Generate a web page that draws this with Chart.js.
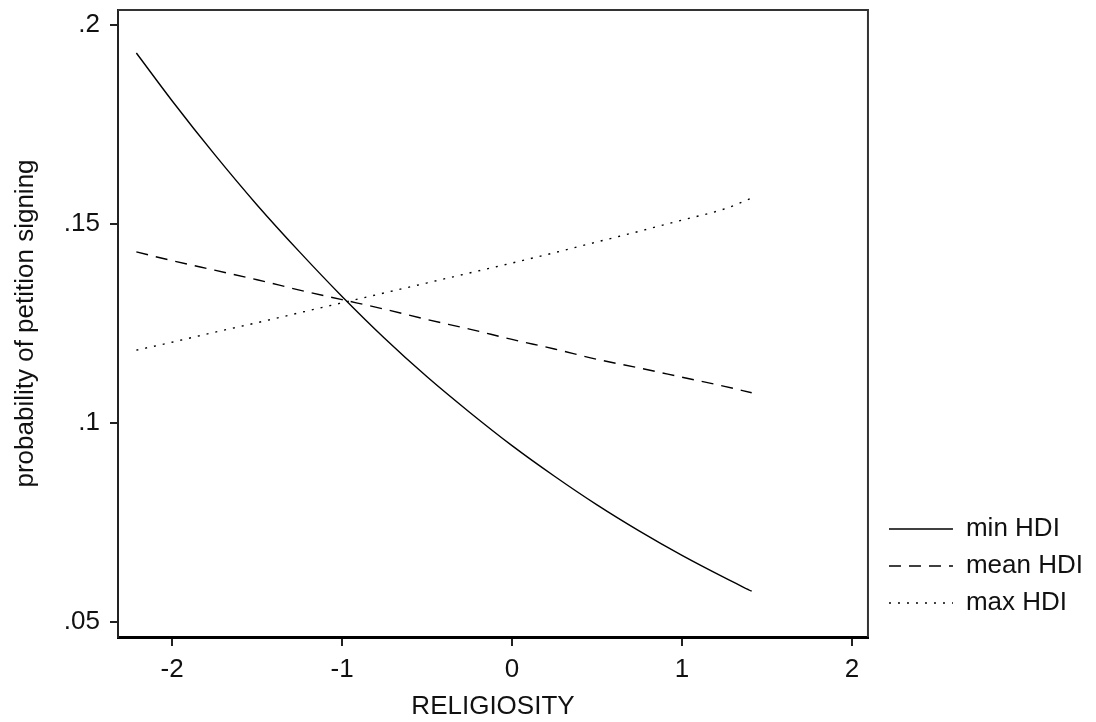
<!DOCTYPE html>
<html lang="en">
<head>
    <meta charset="UTF-8">
    <title>Probability of petition signing by religiosity</title>
    <script src="https://cdn.jsdelivr.net/npm/chart.js"></script>
    <style>
        body { margin: 0; background: #fff; }
        #wrap { width: 1096px; height: 722px; }
    </style>
</head>
<body>
    <div id="wrap">
        <canvas id="hdi-chart" width="1096" height="722"></canvas>
    </div>

    <script>
        // religiosity values where the predictions were read
        const religiosity = [-2.21, -2.0, -1.75, -1.5, -1.25, -1.0, -0.75, -0.5, -0.25, 0, 0.25, 0.5, 0.75, 1.0, 1.25, 1.41];

        // predicted probabilities, one list per HDI level
        const minHDI  = [0.193, 0.181, 0.1675, 0.1548, 0.143, 0.1318, 0.1213, 0.1116, 0.1027, 0.0943, 0.0866, 0.0794, 0.0728, 0.0667, 0.0611, 0.0577];
        const meanHDI = [0.143, 0.1408, 0.1384, 0.136, 0.1334, 0.131, 0.1286, 0.126, 0.1236, 0.121, 0.1186, 0.116, 0.1138, 0.1115, 0.1092, 0.1076];
        const maxHDI  = [0.1183, 0.1203, 0.1228, 0.1252, 0.1277, 0.1302, 0.1327, 0.1352, 0.1377, 0.1402, 0.1428, 0.1455, 0.1482, 0.151, 0.1538, 0.1565];

        const seriesNames = ['min HDI', 'mean HDI', 'max HDI'];

        // axis ticks
        const xTickValues = [-2, -1, 0, 1, 2];
        const yTickValues = [0.05, 0.1, 0.15, 0.2];
        const yTickLabels = ['.05', '.1', '.15', '.2'];

        const FONT = 'Liberation Sans, Arial, sans-serif';

        function toPoints(ys) {
            return religiosity.map((x, i) => ({ x: x, y: ys[i] }));
        }

        // top and right sides of the plot frame, plus moving the legend
        // down next to the bottom right corner of the plot
        const frame = {
            id: 'frame',
            afterLayout(chart) {
                const lg = chart.legend;
                if (!lg) return;
                const h = lg.bottom - lg.top;
                lg.left += 10;
                lg.right += 10;
                lg.bottom = chart.chartArea.bottom - 10;
                lg.top = lg.bottom - h;
            },
            afterDraw(chart) {
                const a = chart.chartArea;
                const ctx = chart.ctx;
                ctx.save();
                ctx.strokeStyle = '#333';
                ctx.lineWidth = 2;
                ctx.beginPath();
                ctx.moveTo(a.left, a.top);
                ctx.lineTo(a.right, a.top);
                ctx.lineTo(a.right, a.bottom);
                ctx.stroke();
                ctx.restore();
            }
        };

        const ctx = document.getElementById('hdi-chart').getContext('2d');
        new Chart(ctx, {
            type: 'line',
            data: {
                datasets: [
                    {
                        label: seriesNames[0],
                        data: toPoints(minHDI),
                        borderColor: '#000',
                        borderWidth: 1.4,
                        pointRadius: 0,
                        pointStyle: 'line',
                        cubicInterpolationMode: 'monotone'
                    },
                    {
                        label: seriesNames[1],
                        data: toPoints(meanHDI),
                        borderColor: '#000',
                        borderWidth: 1.4,
                        borderDash: [12, 8],
                        pointRadius: 0,
                        pointStyle: 'line',
                        cubicInterpolationMode: 'monotone'
                    },
                    {
                        label: seriesNames[2],
                        data: toPoints(maxHDI),
                        borderColor: '#000',
                        borderWidth: 1.4,
                        borderDash: [2, 7],
                        pointRadius: 0,
                        pointStyle: 'line',
                        cubicInterpolationMode: 'monotone'
                    }
                ]
            },
            options: {
                responsive: false,
                animation: false,
                layout: { padding: { top: 10, right: 13, bottom: 0, left: 0 } },
                plugins: {
                    tooltip: { enabled: false },
                    legend: {
                        position: 'right',
                        align: 'end',
                        labels: {
                            usePointStyle: true,
                            pointStyleWidth: 64,
                            padding: 11,
                            color: '#111',
                            font: { family: FONT, size: 26 },
                            generateLabels(chart) {
                                const items = Chart.defaults.plugins.legend.labels.generateLabels(chart);
                                items.forEach(it => {
                                    const ds = chart.data.datasets[it.datasetIndex];
                                    it.lineDash = ds.borderDash || [];
                                    it.lineWidth = 1.6;
                                    it.strokeStyle = '#000';
                                });
                                return items;
                            }
                        }
                    }
                },
                scales: {
                    x: {
                        type: 'linear',
                        min: -2.318,
                        max: 2.094,
                        afterBuildTicks: s => { s.ticks = xTickValues.map(v => ({ value: v })); },
                        afterFit: s => { s.height = 85; s.paddingLeft = 0; s.paddingRight = 0; },
                        grid: { drawOnChartArea: false, drawTicks: true, tickLength: 9, color: '#222', lineWidth: 2 },
                        border: { display: true, color: '#000', width: 3 },
                        ticks: { color: '#111', padding: 8, font: { family: FONT, size: 26 } },
                        title: { display: true, text: 'RELIGIOSITY', color: '#111', padding: { top: 0, bottom: 0 }, font: { family: FONT, size: 26 } }
                    },
                    y: {
                        type: 'linear',
                        min: 0.0462,
                        max: 0.2038,
                        afterBuildTicks: s => { s.ticks = yTickValues.map(v => ({ value: v })); },
                        afterFit: s => { s.width = 118; s.paddingTop = 0; s.paddingBottom = 0; },
                        grid: { drawOnChartArea: false, drawTicks: true, tickLength: 8, color: '#222', lineWidth: 2 },
                        border: { display: true, color: '#222', width: 2 },
                        ticks: {
                            color: '#111',
                            padding: 10,
                            font: { family: FONT, size: 26 },
                            callback: v => yTickLabels[yTickValues.indexOf(v)]
                        },
                        title: { display: true, text: 'probability of petition signing', color: '#111', padding: { top: 10, bottom: 0 }, font: { family: FONT, size: 26 } }
                    }
                }
            },
            plugins: [frame]
        });
    </script>
</body>
</html>
